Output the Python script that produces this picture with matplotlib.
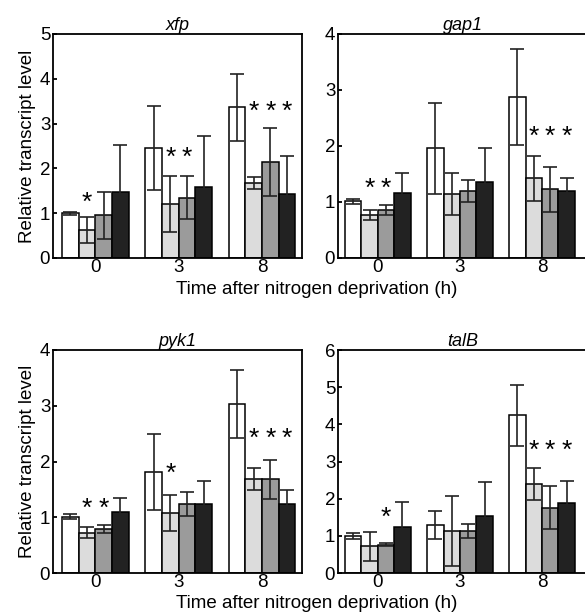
import matplotlib
matplotlib.use('Agg')
import matplotlib.pyplot as plt
import numpy as np

plt.rcParams['font.family'] = ['Liberation Sans', 'DejaVu Sans']
plt.rcParams['font.size'] = 13
plt.rcParams['axes.linewidth'] = 1.3
plt.rcParams['ytick.direction'] = 'in'
plt.rcParams['ytick.major.size'] = 3
plt.rcParams['ytick.major.width'] = 1.3
plt.rcParams['xtick.major.size'] = 0

groups = ['0', '3', '8']
genes = ['xfp', 'gap1', 'pyk1', 'talB']
ymax = [5, 4, 4, 6]

# mean values, per gene: rows = time point, cols = strain
xfp_mean = [[1.00, 0.63, 0.95, 1.47], [2.46, 1.21, 1.35, 1.58], [3.36, 1.67, 2.14, 1.43]]
xfp_err = [[0.03, 0.29, 0.52, 1.06], [0.94, 0.63, 0.47, 1.15], [0.74, 0.14, 0.76, 0.84]]
gap1_mean = [[1.01, 0.76, 0.86, 1.16], [1.96, 1.14, 1.20, 1.35], [2.88, 1.42, 1.23, 1.19]]
gap1_err = [[0.04, 0.09, 0.085, 0.36], [0.81, 0.38, 0.20, 0.61], [0.86, 0.40, 0.40, 0.23]]
pyk1_mean = [[1.01, 0.72, 0.79, 1.09], [1.81, 1.08, 1.24, 1.24], [3.04, 1.68, 1.68, 1.24]]
pyk1_err = [[0.04, 0.10, 0.07, 0.26], [0.68, 0.32, 0.21, 0.41], [0.61, 0.20, 0.35, 0.25]]
talB_mean = [[1.00, 0.72, 0.76, 1.25], [1.29, 1.14, 1.14, 1.54], [4.24, 2.39, 1.76, 1.88]]
talB_err = [[0.08, 0.39, 0.04, 0.67], [0.38, 0.94, 0.19, 0.90], [0.83, 0.43, 0.57, 0.60]]

# significance stars: (time index, bar index, y height)
xfp_stars = [(0, 1, 1.23), (1, 1, 2.23), (1, 2, 2.23), (2, 1, 3.27), (2, 2, 3.27), (2, 3, 3.27)]
gap1_stars = [(0, 1, 1.23), (0, 2, 1.23), (2, 1, 2.16), (2, 2, 2.16), (2, 3, 2.16)]
pyk1_stars = [(0, 1, 1.15), (0, 2, 1.15), (1, 1, 1.78), (2, 1, 2.41), (2, 2, 2.41), (2, 3, 2.41)]
talB_stars = [(0, 2, 1.48), (2, 1, 3.29), (2, 2, 3.29), (2, 3, 3.29)]

means = [xfp_mean, gap1_mean, pyk1_mean, talB_mean]
errs = [xfp_err, gap1_err, pyk1_err, talB_err]
stars = [xfp_stars, gap1_stars, pyk1_stars, talB_stars]

colors = ['white', '#dcdcdc', '#9b9b9b', '#222222']
width = 0.2
offsets = np.array([-0.3, -0.1, 0.1, 0.3])

W, H = 585, 614
fig = plt.figure(figsize=(W / 100, H / 100), dpi=100)

# axes boxes in pixels: left, top, right, bottom
boxes = [(53, 34, 302, 258), (338, 34, 588, 258),
         (53, 350, 302, 573), (338, 350, 588, 573)]

x = np.arange(len(groups))
for k in range(4):
    l, t, r, b = boxes[k]
    ax = fig.add_axes([l / W, 1 - b / H, (r - l) / W, (b - t) / H])
    m = np.array(means[k])
    e = np.array(errs[k])
    for j in range(4):
        ax.bar(x + offsets[j], m[:, j], width, color=colors[j],
               edgecolor='black', linewidth=1.1, zorder=2)
        ax.errorbar(x + offsets[j], m[:, j], yerr=e[:, j], fmt='none',
                    ecolor='#222222', elinewidth=1.2, capsize=5,
                    capthick=1.2, zorder=3)
    for gi, bi, yy in stars[k]:
        ax.text(x[gi] + offsets[bi], yy, '*', ha='center', va='center',
                fontsize=19, zorder=4)
    if k % 2 == 0:
        ax.set_xlim(-0.51, 2.48)
    else:
        ax.set_xlim(-0.485, 2.56)
    ax.set_ylim(0, ymax[k])
    ax.set_yticks(range(ymax[k] + 1))
    ax.set_xticks(x)
    ax.set_xticklabels(groups, fontsize=13.5)
    ax.tick_params(axis='x', pad=1)
    ax.tick_params(axis='y', pad=2, labelsize=13.5)
    ax.set_title(genes[k], fontstyle='italic', fontsize=13, pad=2)
    if k % 2 == 0:
        ax.set_ylabel('Relative transcript level', fontsize=13.5, labelpad=3)

fig.text(317 / W, 1 - 289 / H, 'Time after nitrogen deprivation (h)',
         ha='center', va='center', fontsize=13.5)
fig.text(317 / W, 1 - 603 / H, 'Time after nitrogen deprivation (h)',
         ha='center', va='center', fontsize=13.5)

fig.savefig('out.png', dpi=100)
